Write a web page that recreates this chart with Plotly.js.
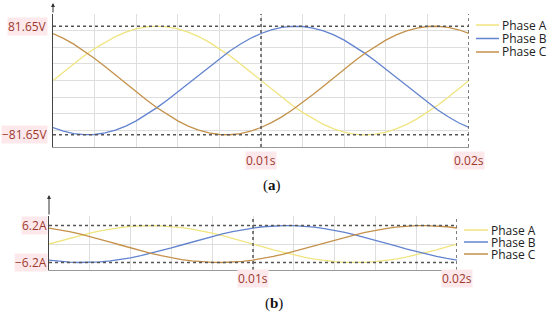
<!DOCTYPE html>
<html>
<head>
<meta charset="utf-8">
<script src="https://cdn.plot.ly/plotly-3.0.1.min.js"></script>
<style>
  html, body { margin: 0; padding: 0; background: #fff; }
  #chart { width: 550px; height: 313px; }
</style>
</head>
<body>
<div id="chart"></div>
<script>
// time samples (s), one period of 50 Hz
var time = [0, 0.0005, 0.001, 0.0015, 0.002, 0.0025, 0.003, 0.0035, 0.004, 0.0045,
    0.005, 0.0055, 0.006, 0.0065, 0.007, 0.0075, 0.008, 0.0085, 0.009, 0.0095,
    0.01, 0.0105, 0.011, 0.0115, 0.012, 0.0125, 0.013, 0.0135, 0.014, 0.0145,
    0.015, 0.0155, 0.016, 0.0165, 0.017, 0.0175, 0.018, 0.0185, 0.019, 0.0195, 0.02];

var phaseNames = ['Phase A', 'Phase B', 'Phase C'];
var phaseColors = ['#f0e47e', '#6283cf', '#c4914a'];

// (a) voltages, V
var voltA = [0, 12.8, 25.2, 37.1, 48.0, 57.7, 66.1, 72.8, 77.7, 80.6, 81.7,
    80.6, 77.7, 72.8, 66.1, 57.7, 48.0, 37.1, 25.2, 12.8, 0,
    -12.8, -25.2, -37.1, -48.0, -57.7, -66.1, -72.8, -77.7, -80.6, -81.7,
    -80.6, -77.7, -72.8, -66.1, -57.7, -48.0, -37.1, -25.2, -12.8, 0];
var voltB = [-70.7, -76.2, -79.9, -81.5, -81.2, -78.9, -74.6, -68.5, -60.7, -51.4, -40.8,
    -29.3, -17.0, -4.3, 8.5, 21.1, 33.2, 44.5, 54.6, 63.5, 70.7,
    76.2, 79.9, 81.5, 81.2, 78.9, 74.6, 68.5, 60.7, 51.4, 40.8,
    29.3, 17.0, 4.3, -8.5, -21.1, -33.2, -44.5, -54.6, -63.5, -70.7];
var voltC = [70.7, 63.4, 54.7, 44.4, 33.2, 21.2, 8.5, -4.3, -17.0, -29.2, -40.9,
    -51.3, -60.7, -68.5, -74.6, -78.8, -81.2, -81.6, -79.8, -76.3, -70.7,
    -63.4, -54.7, -44.4, -33.2, -21.2, -8.5, 4.3, 17.0, 29.2, 40.9,
    51.3, 60.7, 68.5, 74.6, 78.8, 81.2, 81.6, 79.8, 76.3, 70.7];

// (b) currents, A
var currA = [0, 0.97, 1.92, 2.81, 3.64, 4.38, 5.02, 5.52, 5.90, 6.12, 6.2,
    6.12, 5.90, 5.52, 5.02, 4.38, 3.64, 2.81, 1.92, 0.97, 0,
    -0.97, -1.92, -2.81, -3.64, -4.38, -5.02, -5.52, -5.90, -6.12, -6.2,
    -6.12, -5.90, -5.52, -5.02, -4.38, -3.64, -2.81, -1.92, -0.97, 0];
var currB = [-5.37, -5.79, -6.06, -6.19, -6.17, -5.99, -5.66, -5.20, -4.61, -3.90, -3.10,
    -2.22, -1.29, -0.32, 0.65, 1.60, 2.52, 3.38, 4.15, 4.82, 5.37,
    5.79, 6.06, 6.19, 6.17, 5.99, 5.66, 5.20, 4.61, 3.90, 3.10,
    2.22, 1.29, 0.32, -0.65, -1.60, -2.52, -3.38, -4.15, -4.82, -5.37];
var currC = [5.37, 4.82, 4.14, 3.38, 2.53, 1.61, 0.64, -0.32, -1.29, -2.22, -3.10,
    -3.90, -4.61, -5.20, -5.67, -5.98, -6.16, -6.19, -6.07, -5.79, -5.37,
    -4.82, -4.14, -3.38, -2.53, -1.61, -0.64, 0.32, 1.29, 2.22, 3.10,
    3.90, 4.61, 5.20, 5.67, 5.98, 6.16, 6.19, 6.07, 5.79, 5.37];

var voltPeak = 81.65;
var currPeak = 6.2;
var markTimes = [0.01, 0.02];
var markLabels = ['0.01s', '0.02s'];
var gridTimes = [0, 0.002, 0.004, 0.006, 0.008, 0.01, 0.012, 0.014, 0.016, 0.018, 0.02];
var voltGrid = [-100, -75, -50, -25, 0, 25, 50, 75, 100];

var W = 550, H = 313;
function px(x) { return x / W; }
function py(y) { return 1 - y / H; }

var labelFont = {family: 'Open Sans, sans-serif', size: 12, color: '#9e3a2c'};
var labelBg = '#fde8ec';
var dotLine = {color: '#555', width: 1.5, dash: 'dot'};

var voltSeries = [voltA, voltB, voltC];
var currSeries = [currA, currB, currC];
var data = [];
voltSeries.forEach(function(s, i) {
    data.push({x: time, y: s, type: 'scatter', mode: 'lines', name: phaseNames[i],
        line: {color: phaseColors[i], width: 1.3}, xaxis: 'x', yaxis: 'y'});
});
currSeries.forEach(function(s, i) {
    data.push({x: time, y: s, type: 'scatter', mode: 'lines', name: phaseNames[i],
        line: {color: phaseColors[i], width: 1.3}, xaxis: 'x2', yaxis: 'y2'});
});

var shapes = [];
var annotations = [];

// dotted reference lines
[voltPeak, -voltPeak].forEach(function(v) {
    shapes.push({type: 'line', xref: 'x', yref: 'y', x0: 0, x1: 0.02, y0: v, y1: v, line: dotLine});
});
[currPeak, -currPeak].forEach(function(v) {
    shapes.push({type: 'line', xref: 'x2', yref: 'y2', x0: 0, x1: 0.02, y0: v, y1: v, line: dotLine});
});
markTimes.forEach(function(t) {
    shapes.push({type: 'line', xref: 'x', yref: 'y', x0: t, x1: t, y0: -100, y1: 100, line: dotLine});
    shapes.push({type: 'line', xref: 'x2', yref: 'y2', x0: t, x1: t, y0: -8.7, y1: 9.4, line: dotLine});
});

// value labels
function label(opts) {
    return Object.assign({showarrow: false, font: labelFont, bgcolor: labelBg, borderpad: 0,
        xanchor: 'center', yanchor: 'middle'}, opts);
}
annotations.push(label({xref: 'paper', yref: 'y', x: px(48), y: voltPeak, xanchor: 'right', text: voltPeak + 'V'}));
annotations.push(label({xref: 'paper', yref: 'y', x: px(48), y: -voltPeak, xanchor: 'right', text: '\u2212' + voltPeak + 'V'}));
annotations.push(label({xref: 'paper', yref: 'y2', x: px(48), y: currPeak, xanchor: 'right', text: currPeak + 'A'}));
annotations.push(label({xref: 'paper', yref: 'y2', x: px(48), y: -currPeak, xanchor: 'right', text: '\u2212' + currPeak + 'A'}));
markTimes.forEach(function(t, i) {
    annotations.push(label({xref: 'x', yref: 'paper', x: t, y: py(160), text: markLabels[i]}));
    annotations.push(label({xref: 'x2', yref: 'paper', x: t, y: py(278), text: markLabels[i]}));
});

// axis arrows
var arrow = {text: '', showarrow: true, arrowhead: 2, arrowsize: 0.8, arrowwidth: 1, axref: 'pixel', ayref: 'pixel'};
annotations.push(Object.assign({}, arrow, {xref: 'x', yref: 'paper', x: 0, y: py(3), ax: 0, ay: 11, arrowcolor: '#333'}));
annotations.push(Object.assign({}, arrow, {xref: 'x', yref: 'y', x: 0.0205, y: -100, ax: -11, ay: 0, arrowcolor: '#666'}));
annotations.push(Object.assign({}, arrow, {xref: 'x2', yref: 'paper', x: 0, y: py(195), ax: 0, ay: 21, arrowcolor: '#333'}));
annotations.push(Object.assign({}, arrow, {xref: 'x2', yref: 'y2', x: 0.0208, y: -8.7, ax: -16, ay: 0, arrowcolor: '#666'}));

// legends (entries packed tighter than plotly's own legend allows)
var legendFont = {family: 'Open Sans, sans-serif', size: 12, color: '#222'};
phaseNames.forEach(function(name, i) {
    var yTop = 25 + i * 13.5;
    shapes.push({type: 'line', xref: 'paper', yref: 'paper', x0: px(476), x1: px(499), y0: py(yTop), y1: py(yTop),
        line: {color: phaseColors[i], width: 1.5}});
    annotations.push({xref: 'paper', yref: 'paper', x: px(501), y: py(yTop), xanchor: 'left', yanchor: 'middle',
        borderpad: 0, text: name, showarrow: false, font: legendFont});
    var yBot = 230 + i * 12;
    shapes.push({type: 'line', xref: 'paper', yref: 'paper', x0: px(464), x1: px(488), y0: py(yBot), y1: py(yBot),
        line: {color: phaseColors[i], width: 1.5}});
    annotations.push({xref: 'paper', yref: 'paper', x: px(490), y: py(yBot), xanchor: 'left', yanchor: 'middle',
        borderpad: 0, text: name, showarrow: false, font: legendFont});
});

// captions
var capFont = {family: 'Liberation Serif, serif', size: 15, color: '#111'};
annotations.push({xref: 'paper', yref: 'paper', x: px(272), y: py(185), xanchor: 'center', yanchor: 'middle',
    text: '(<b>a</b>)', showarrow: false, font: capFont});
annotations.push({xref: 'paper', yref: 'paper', x: px(274), y: py(303), xanchor: 'center', yanchor: 'middle',
    text: '(<b>b</b>)', showarrow: false, font: capFont});

var xCommon = {range: [0, 0.02], tickvals: gridTimes, showticklabels: false, ticks: '',
    showgrid: true, gridcolor: '#dedede', gridwidth: 1, zeroline: false,
    showline: true, linecolor: '#999', linewidth: 1};
var yCommon = {showticklabels: false, ticks: '', showgrid: true, gridcolor: '#dedede', gridwidth: 1,
    zeroline: false, showline: true, linecolor: '#444', linewidth: 1};

var layout = {
    width: W, height: H,
    margin: {l: 0, r: 0, t: 0, b: 0},
    paper_bgcolor: '#fff', plot_bgcolor: '#fff',
    showlegend: false,
    xaxis: Object.assign({}, xCommon, {domain: [px(53), px(469)], anchor: 'y'}),
    yaxis: Object.assign({}, yCommon, {domain: [py(147), py(14)], range: [-100, 100], tickvals: voltGrid, anchor: 'x'}),
    xaxis2: Object.assign({}, xCommon, {domain: [px(49), px(457)], anchor: 'y2'}),
    yaxis2: Object.assign({}, yCommon, {domain: [py(270), py(216)], range: [-8.7, 9.4], tickvals: [0], anchor: 'x2'}),
    shapes: shapes,
    annotations: annotations
};

Plotly.newPlot('chart', data, layout, {staticPlot: true});
</script>
</body>
</html>
